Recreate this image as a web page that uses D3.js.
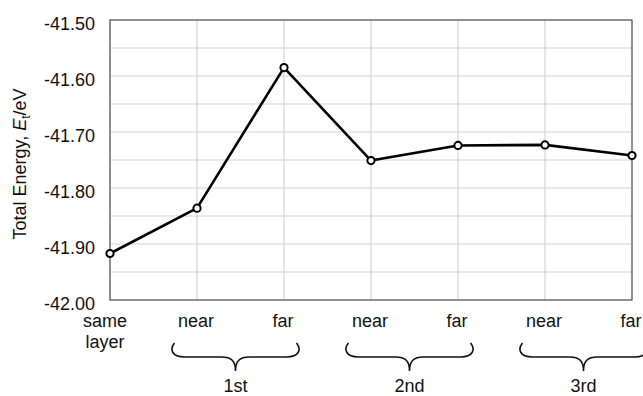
<!DOCTYPE html>
<html>
<head>
<meta charset="utf-8">
<script src="https://cdn.jsdelivr.net/npm/d3@7"></script>
<style>
  html, body { margin: 0; padding: 0; background: #fff; }
  svg { display: block; }
  text { font-family: "Liberation Sans", Arial, Helvetica, sans-serif; fill: #111; }
</style>
</head>
<body>
<svg id="chart" width="643" height="396"></svg>
<script>
// Positions of the second species relative to the first
const categories = ["same layer", "near", "far", "near", "far", "near", "far"];
// Total energy E_t (eV) for each configuration
const energies = [-41.917, -41.836, -41.585, -41.751, -41.724, -41.723, -41.742];
// Labelled ticks on the energy axis
const yTicks = [-41.5, -41.6, -41.7, -41.8, -41.9, -42.0];
// Every horizontal grid line (half steps included)
const yGrid = [-41.5, -41.55, -41.6, -41.65, -41.7, -41.75, -41.8, -41.85, -41.9, -41.95, -42.0];
// Neighbour shells grouping the near/far pairs
const groupLabels = ["1st", "2nd", "3rd"];
const groupStart = [1, 3, 5];
const groupEnd = [2, 4, 6];

const svg = d3.select("#chart");
const margin = { left: 110, right: 11, top: 20, bottom: 96 };
const W = 643, H = 396;

const x = d3.scalePoint()
  .domain(d3.range(categories.length))
  .range([margin.left, W - margin.right]);

const y = d3.scaleLinear()
  .domain([-42.0, -41.5])
  .range([H - margin.bottom, margin.top]);

// grid
const grid = svg.append("g");
grid.selectAll("line.h").data(yGrid).join("line")
  .attr("x1", margin.left).attr("x2", W - margin.right)
  .attr("y1", d => y(d)).attr("y2", d => y(d))
  .attr("stroke", "#d4d4d4").attr("stroke-width", 1.2);
grid.selectAll("line.v").data(d3.range(categories.length)).join("line")
  .attr("x1", d => x(d)).attr("x2", d => x(d))
  .attr("y1", margin.top).attr("y2", H - margin.bottom)
  .attr("stroke", "#d4d4d4").attr("stroke-width", 1.2);

// plot frame
svg.append("rect")
  .attr("x", margin.left).attr("y", margin.top)
  .attr("width", W - margin.right - margin.left)
  .attr("height", H - margin.bottom - margin.top)
  .attr("fill", "none").attr("stroke", "#555").attr("stroke-width", 1.2);

// y axis labels (plain hyphen for the sign)
const fmt = d => d3.format(".2f")(d).replace("\u2212", "-");
const yAxis = d3.axisLeft(y).tickValues(yTicks).tickFormat(fmt).tickSize(0).tickPadding(15);
const yg = svg.append("g").attr("transform", `translate(${margin.left},0)`).call(yAxis);
yg.select(".domain").remove();
yg.selectAll("text")
  .attr("font-family", "Liberation Sans, Arial, sans-serif")
  .attr("font-size", 18).attr("fill", "#111")
  .attr("dy", "0.5em");

// y axis title
const title = svg.append("text")
  .attr("transform", `translate(26,${(margin.top + H - margin.bottom) / 2 + 4}) rotate(-90)`)
  .attr("text-anchor", "middle").attr("font-size", 18);
title.append("tspan").text("Total Energy, ");
title.append("tspan").attr("font-style", "italic").text("E");
title.append("tspan").attr("font-size", 12).attr("dy", 4).text("t");
title.append("tspan").attr("dy", -4).text("/eV");

// x category labels
const xl = svg.append("g");
categories.forEach((c, i) => {
  const words = c.split(" ");
  const cx = x(i) - (words.length > 1 ? 5 : 1);
  const t = xl.append("text")
    .attr("text-anchor", "middle")
    .attr("font-size", 18)
    .attr("x", cx)
    .attr("y", 327);
  words.forEach((w, k) => {
    t.append("tspan").attr("x", cx).attr("dy", k === 0 ? 0 : 21).text(w);
  });
});

// braces grouping near/far pairs
const braceTop = 343, braceMid = 357, braceTip = 371, half = 63;
groupLabels.forEach((g, i) => {
  const cx = (x(groupStart[i]) + x(groupEnd[i])) / 2 - 5;
  const x0 = cx - half, x1 = cx + half;
  const p = d3.path();
  p.moveTo(x0 + 2, braceTop);
  p.bezierCurveTo(x0 - 3, braceTop + 6, x0 - 1, braceMid, x0 + 12, braceMid);
  p.lineTo(cx - 14, braceMid);
  p.bezierCurveTo(cx - 4, braceMid, cx, braceMid + 4, cx, braceTip);
  p.bezierCurveTo(cx, braceMid + 4, cx + 4, braceMid, cx + 14, braceMid);
  p.lineTo(x1 - 12, braceMid);
  p.bezierCurveTo(x1 + 1, braceMid, x1 + 3, braceTop + 6, x1 - 2, braceTop);
  svg.append("path").attr("d", p.toString())
    .attr("fill", "none").attr("stroke", "#111").attr("stroke-width", 1.6);
  svg.append("text").attr("x", cx).attr("y", 392)
    .attr("text-anchor", "middle").attr("font-size", 18).text(g);
});

// data line
const line = d3.line().x((d, i) => x(i)).y(d => y(d));
svg.append("path").datum(energies)
  .attr("d", line)
  .attr("fill", "none").attr("stroke", "#000").attr("stroke-width", 2.6)
  .attr("stroke-linejoin", "round");

svg.selectAll("circle.pt").data(energies).join("circle")
  .attr("cx", (d, i) => x(i)).attr("cy", d => y(d)).attr("r", 3.6)
  .attr("fill", "#fff").attr("stroke", "#000").attr("stroke-width", 2);
</script>
</body>
</html>
